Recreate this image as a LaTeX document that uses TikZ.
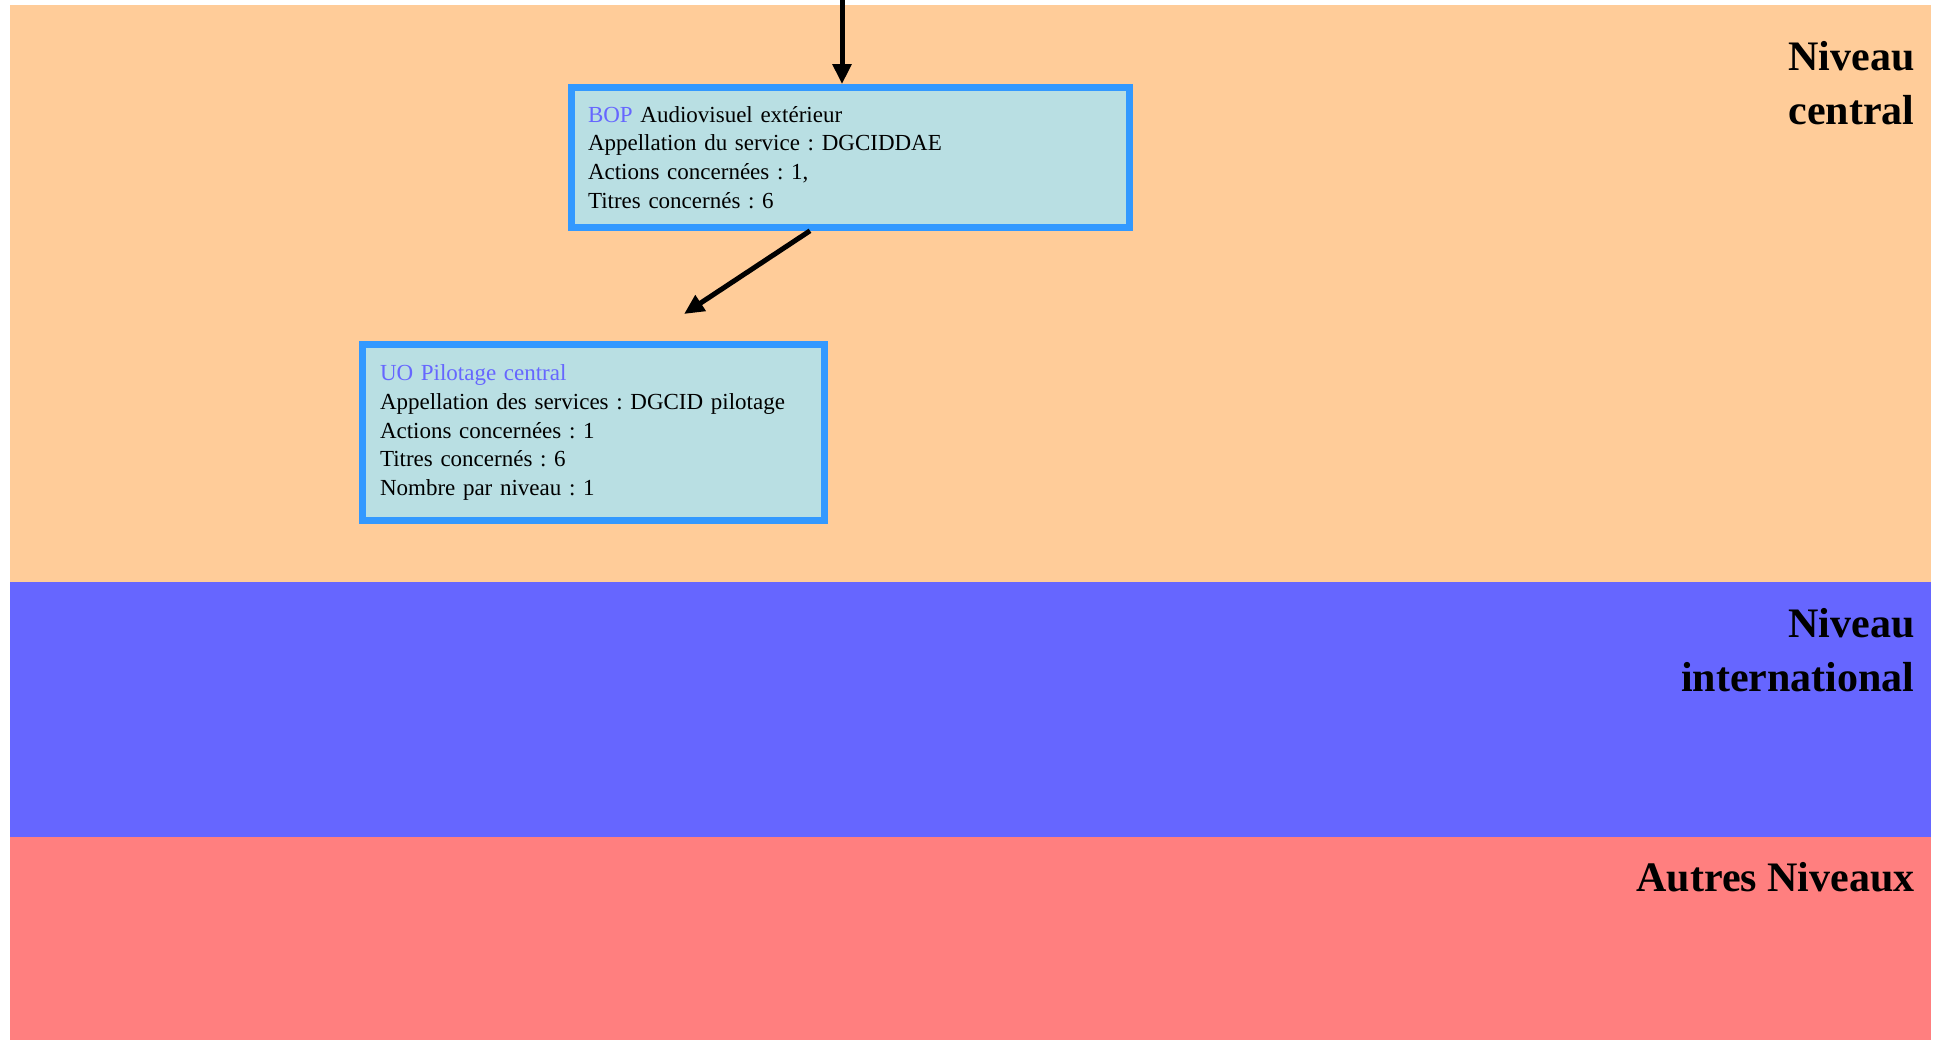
\documentclass[tikz,border=0pt]{standalone}
\usepackage{fontspec}
\setmainfont{Liberation Serif}
\usetikzlibrary{arrows.meta}
\definecolor{orangebg}{HTML}{FFCC99}
\definecolor{bluebg}{HTML}{6666FF}
\definecolor{redbg}{HTML}{FF7F7F}
\definecolor{boxfill}{HTML}{B9DFE3}
\definecolor{boxline}{HTML}{3399FF}
\definecolor{titleblue}{HTML}{6666FF}
\frenchspacing
\begin{document}
\begin{tikzpicture}[x=0.5pt,y=-0.5pt,
  band/.style={fill=#1, draw=none},
  infobox/.style={draw=boxline, fill=boxfill, line width=3.3pt, align=left, inner sep=0pt,
    font=\fontsize{11.5}{14.4}\selectfont},
  levellabel/.style={anchor=north east, align=right, inner sep=0pt,
    font=\fontsize{21}{27}\selectfont\bfseries},
  arr/.style={line width=2.5pt, -{Triangle[length=10pt,width=9pt]}}]
\useasboundingbox (0,0) rectangle (1937,1040);
\fill[white] (0,0) rectangle (1937,1040);
% bands
\fill[band=orangebg] (10,5) rectangle (1931,582);
\fill[band=bluebg] (10,582) rectangle (1931,837);
\fill[band=redbg] (10,837) rectangle (1931,1040);
% level labels
\node[levellabel] (lc) at (1915,41) {Niveau\\central};
\node[levellabel] (li) at (1915,608) {Niveau\\international};
\node[levellabel] (la) at (1915,862) {Autres Niveaux};
% boxes
\node[infobox, minimum width=279pt, minimum height=70pt, text width=262.5pt] (b1) at (850.5,157.5)
  {\textcolor{titleblue}{BOP} Audiovisuel extérieur\\
   Appellation du service : DGCIDDAE\\
   Actions concernées : 1,\\
   Titres concernés : 6};
\node[infobox, minimum width=231pt, minimum height=88pt, text width=213.5pt] (b2) at (593.5,432.5)
  {\textcolor{titleblue}{UO Pilotage central}\\
   Appellation des services : DGCID pilotage\\
   Actions concernées : 1\\
   Titres concernés : 6\\
   Nombre par niveau : 1};
% connectors
\coordinate (top) at (842,0);
\coordinate (s2) at (810,0);
\coordinate (e2) at (684,314);
\draw[arr] (top) -- (top |- b1.north);
\draw[arr] (s2 |- b1.south) -- (e2);
\end{tikzpicture}
\end{document}
